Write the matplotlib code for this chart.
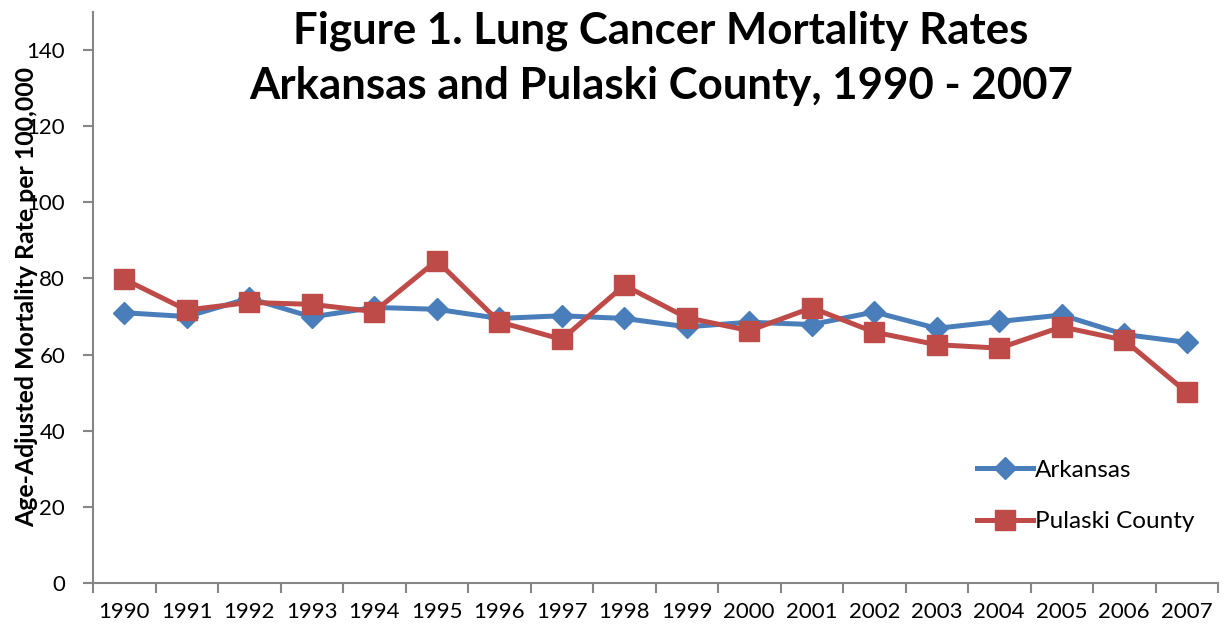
import matplotlib.pyplot as plt
import numpy as np

years = [str(y) for y in range(1990, 2008)]
arkansas = [71.0, 70.0, 74.8, 69.9, 72.4, 71.9, 69.5, 70.2, 69.5, 67.3,
            68.5, 67.9, 71.2, 66.9, 68.7, 70.4, 65.3, 63.2]
pulaski = [79.8, 71.7, 73.7, 73.2, 71.3, 84.7, 68.6, 64.0, 78.2, 69.7,
           66.3, 72.3, 65.9, 62.6, 61.7, 67.3, 63.8, 50.1]

blue = '#4A7EBB'
red = '#BE4B48'
axis_gray = '#868686'
font = 'Lato'

fig = plt.figure(figsize=(12.25, 6.31), dpi=100)
ax = fig.add_axes([93 / 1225, 1 - 583 / 631, 1125 / 1225, 571 / 631])

x = np.arange(len(years))
ax.plot(x, arkansas, color=blue, lw=3.6, marker='D', markersize=11,
        label='Arkansas', zorder=3)
ax.plot(x, pulaski, color=red, lw=3.6, marker='s', markersize=14,
        label='Pulaski County', zorder=4)

ax.set_xlim(-0.5, len(years) - 0.5)
ax.set_ylim(0, 150)
ax.set_yticks(range(0, 141, 20))
ax.set_xticks(x)
ax.set_xticklabels(years, fontfamily=font, fontsize=16)
ax.set_xticks(np.arange(-0.5, len(years), 1), minor=True)
ax.tick_params(axis='x', which='major', length=0, pad=14)
ax.tick_params(axis='x', which='minor', length=7, color=axis_gray, width=1.5)
ax.tick_params(axis='y', length=7, color=axis_gray, width=1.5, pad=13)
for lbl in ax.get_yticklabels():
    lbl.set_fontfamily(font)
    lbl.set_fontsize(16)

for side in ['top', 'right']:
    ax.spines[side].set_visible(False)
for side in ['left', 'bottom']:
    ax.spines[side].set_color(axis_gray)
    ax.spines[side].set_linewidth(1.5)

fig.text(27 / 1225, 1 - 297 / 631, 'Age-Adjusted Mortality Rate per 100,000',
         rotation=90, ha='center', va='center', fontsize=17.9,
         fontweight='bold', fontfamily=font)

fig.text(661 / 1225, 1 - 31 / 631, 'Figure 1. Lung Cancer Mortality Rates',
         ha='center', va='center', fontsize=31.5, fontweight='bold', fontfamily=font)
fig.text(661 / 1225, 1 - 86 / 631, 'Arkansas and Pulaski County, 1990 - 2007',
         ha='center', va='center', fontsize=31.5, fontweight='bold', fontfamily=font)

leg = ax.legend(loc='upper left', bbox_to_anchor=(955 / 1225, 1 - 438 / 631),
                bbox_transform=fig.transFigure, frameon=False,
                handlelength=2.3, handletextpad=0.1, labelspacing=1.25,
                prop={'family': font, 'size': 17.5})

fig.savefig('out.png', dpi=100)
